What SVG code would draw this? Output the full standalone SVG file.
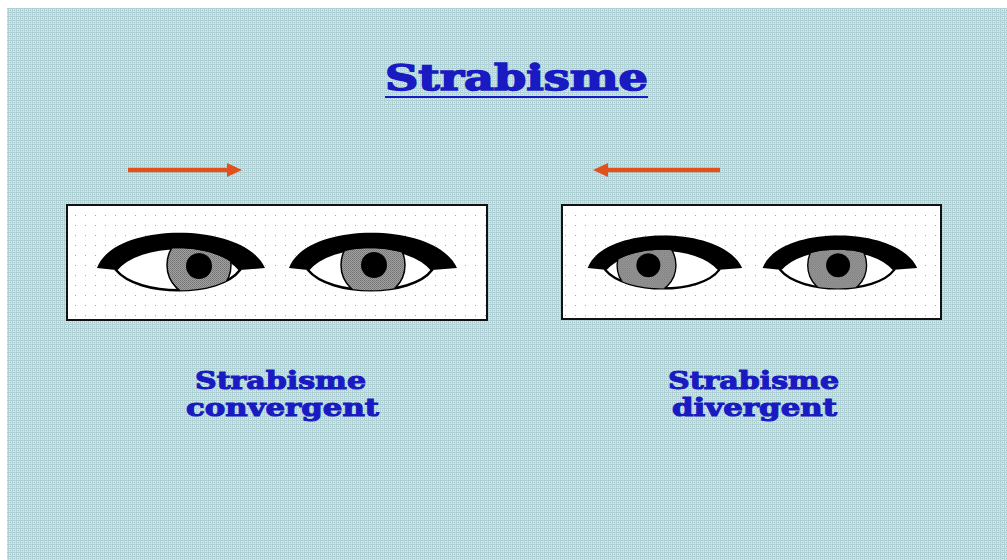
<svg xmlns="http://www.w3.org/2000/svg" width="1007" height="560" viewBox="0 0 1007 560">
  <style>
    .heading { font-family: "DejaVu Serif", "Liberation Serif", serif; font-weight: bold; fill: #1a1ac2; stroke: #1a1ac2; }
    .frame { fill: url(#dots); stroke: #111; stroke-width: 2; }
    .lid { fill: #000; }
    .white { fill: #fff; stroke: #000; stroke-width: 2.5; }
    .iris { fill: url(#grey); stroke: #000; stroke-width: 1.5; }
    .pupil { fill: #000; }
    .arrow { stroke: #e2501c; stroke-width: 4.5; fill: none; marker-end: url(#head); }
  </style>
  <defs>
    <!-- woven cyan backdrop -->
    <pattern id="weave" width="4" height="4" patternUnits="userSpaceOnUse">
      <rect width="4" height="4" fill="#c8e7e7"/>
      <rect width="1" height="4" fill="#aad4d5"/>
      <rect width="4" height="1" fill="#aed1d5"/>
      <rect x="2" y="2" width="1" height="1" fill="#a2b9c1"/>
    </pattern>
    <!-- fine dot fill inside the frames -->
    <pattern id="dots" width="10" height="10" patternUnits="userSpaceOnUse">
      <rect width="10" height="10" fill="#fff"/>
      <rect x="5" y="5" width="1" height="1" fill="#a4a4a4"/>
    </pattern>
    <!-- dithered grey of the iris -->
    <pattern id="grey" width="2" height="2" patternUnits="userSpaceOnUse">
      <rect width="2" height="2" fill="#a0a0a0"/>
      <rect width="1" height="1" fill="#747474"/>
      <rect x="1" y="1" width="1" height="1" fill="#808080"/>
    </pattern>
    <!-- eye opening in local eye coordinates -->
    <clipPath id="opening">
      <path d="M -64,2 C -40,-27 36,-27 60,2 C 40,29 -42,29 -64,2 Z"/>
    </clipPath>
    <path id="whiteShape" d="M -64,2 C -40,-27 36,-27 60,2 C 40,29 -42,29 -64,2 Z"/>
    <!-- upper lid: domed top, flatter underside, pointed at both ends -->
    <path id="lidShape" d="M -83,0 C -66,-47 64,-47 85,0 L 60,2 C 36,-27 -40,-27 -64,2 Z"/>
    <marker id="head" viewBox="0 0 15 14" refX="1" refY="7" markerWidth="15" markerHeight="14" markerUnits="userSpaceOnUse" orient="auto">
      <path d="M0,0 L15,7 L0,14 Z" fill="#e2501c"/>
    </marker>
  </defs>

  <!-- page -->
  <rect width="1007" height="560" fill="#fff"/>
  <rect x="7" y="8" width="1000" height="552" fill="url(#weave)"/>

  <g id="title">
    <text class="heading" x="385" y="90" font-size="35" stroke-width="1.5" textLength="263" lengthAdjust="spacingAndGlyphs">Strabisme</text>
    <line x1="385" y1="97" x2="648" y2="97" stroke="#1a1ac2" stroke-width="2"/>
  </g>

  <g id="connectors">
    <line class="arrow" x1="128" y1="170" x2="228" y2="170"/>
    <line class="arrow" x1="720" y1="170" x2="607" y2="170"/>
  </g>

  <g id="box-convergent">
    <rect class="frame" x="67" y="205" width="420" height="115"/>
    <g transform="translate(180,268)">
      <use href="#whiteShape" class="white"/>
      <g clip-path="url(#opening)">
        <circle class="iris" cx="19" cy="-3" r="32"/>
        <circle class="pupil" cx="19" cy="-2" r="13"/>
      </g>
      <use href="#lidShape" class="lid"/>
    </g>
    <g transform="translate(372,268)">
      <use href="#whiteShape" class="white"/>
      <g clip-path="url(#opening)">
        <circle class="iris" cx="1" cy="-3" r="32"/>
        <circle class="pupil" cx="2" cy="-3" r="13"/>
      </g>
      <use href="#lidShape" class="lid"/>
    </g>
  </g>

  <g id="box-divergent">
    <rect class="frame" x="562" y="205" width="379" height="114"/>
    <g transform="translate(664,268) scale(0.92)">
      <use href="#whiteShape" class="white"/>
      <g clip-path="url(#opening)">
        <circle class="iris" cx="-19" cy="-3" r="32"/>
        <circle class="pupil" cx="-17" cy="-3" r="13"/>
      </g>
      <use href="#lidShape" class="lid"/>
    </g>
    <g transform="translate(839,268) scale(0.92)">
      <use href="#whiteShape" class="white"/>
      <g clip-path="url(#opening)">
        <circle class="iris" cx="-2" cy="-3" r="32"/>
        <circle class="pupil" cx="-1" cy="-3" r="13"/>
      </g>
      <use href="#lidShape" class="lid"/>
    </g>
  </g>

  <g id="label-convergent">
    <text class="heading" x="195" y="389" font-size="25" stroke-width="1.1" textLength="171" lengthAdjust="spacingAndGlyphs">Strabisme</text>
    <text class="heading" x="186" y="416" font-size="25" stroke-width="1.1" textLength="193" lengthAdjust="spacingAndGlyphs">convergent</text>
  </g>

  <g id="label-divergent">
    <text class="heading" x="668" y="389" font-size="25" stroke-width="1.1" textLength="171" lengthAdjust="spacingAndGlyphs">Strabisme</text>
    <text class="heading" x="672" y="416" font-size="25" stroke-width="1.1" textLength="165" lengthAdjust="spacingAndGlyphs">divergent</text>
  </g>
</svg>
